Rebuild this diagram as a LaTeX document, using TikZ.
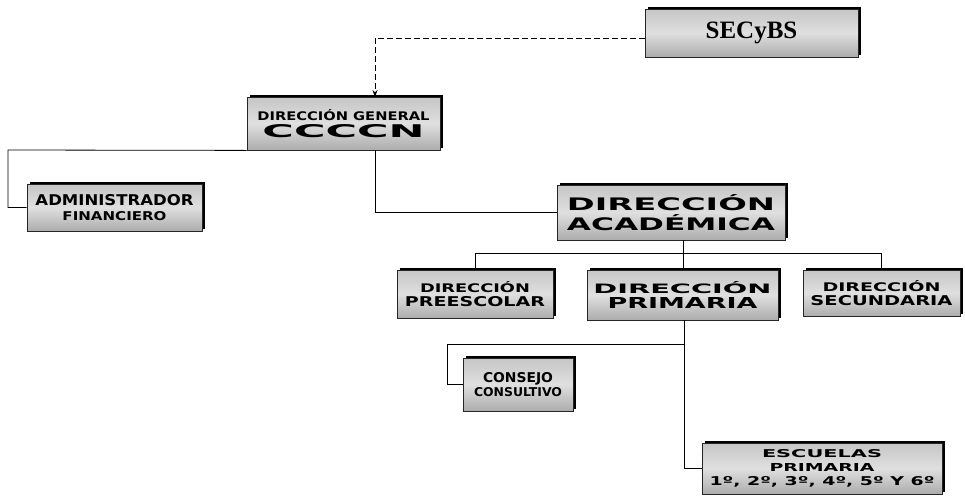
\documentclass[tikz,border=0pt]{standalone}
\usepackage{fontspec}
\setmainfont{DejaVu Sans}
\newfontfamily\serifb{Liberation Serif}
\usetikzlibrary{shadows,arrows.meta}
\newcommand{\boxline}[3]{\resizebox{#1pt}{#2pt}{\bfseries #3}}
\tikzset{
  orgbox/.style={rectangle, inner sep=0pt, align=center,
    draw=black!85, line width=0.8pt,
    top color=gray!45, bottom color=gray!65, middle color=gray!25,
    drop shadow={shadow xshift=2.5pt, shadow yshift=2.5pt, fill=black, opacity=1}},
  link/.style={draw=black, line width=0.8pt},
  dlink/.style={draw=black, line width=0.8pt, dashed, dash pattern=on 6pt off 3pt},
}
\begin{document}
\begin{tikzpicture}[x=1pt,y=-1pt]
\useasboundingbox (0,0) rectangle (965,498);
% boxes
\node[orgbox, minimum width=213pt, minimum height=48pt] (sec) at (751.5,33)
  {{\serifb\bfseries\fontsize{25}{27}\selectfont SECyBS}};
\node[orgbox, minimum width=193pt, minimum height=53pt] (dg) at (343.5,123.5)
  {\boxline{172}{11}{DIRECCIÓN GENERAL}\\[3pt]\boxline{162}{13}{CCCCN}};
\node[orgbox, minimum width=175pt, minimum height=47pt] (adm) at (114.5,207.5)
  {\boxline{158}{11}{ADMINISTRADOR}\\[3pt]\boxline{104}{9}{FINANCIERO}};
\node[orgbox, minimum width=228pt, minimum height=55pt] (da) at (671,212.5)
  {\boxline{208}{16}{DIRECCIÓN}\\[3pt]\boxline{208}{16}{ACADÉMICA}};
\node[orgbox, minimum width=156pt, minimum height=48pt] (pre) at (475,294)
  {\boxline{110}{11}{DIRECCIÓN}\\[2pt]\boxline{140}{10}{PREESCOLAR}};
\node[orgbox, minimum width=191pt, minimum height=50pt] (pri) at (682.5,295)
  {\boxline{178}{12}{DIRECCIÓN}\\[3pt]\boxline{150}{11}{PRIMARIA}};
\node[orgbox, minimum width=157pt, minimum height=46pt] (scd) at (881.5,293)
  {\boxline{118}{11}{DIRECCIÓN}\\[2pt]\boxline{142}{10}{SECUNDARIA}};
\node[orgbox, minimum width=110pt, minimum height=53pt] (con) at (518,384.5)
  {\boxline{70}{10}{CONSEJO}\\[2pt]\boxline{88}{9}{CONSULTIVO}};
\node[orgbox, minimum width=240pt, minimum height=51pt] (esc) at (822,468.5)
  {\boxline{120}{8}{ESCUELAS}\\[2pt]\boxline{105}{8}{PRIMARIA}\\[2pt]\boxline{225}{9}{1º, 2º, 3º, 4º, 5º Y 6º}};
% coordinates
\coordinate (dgin) at (375,97);
\coordinate (dgout) at (375,150);
\coordinate (admc) at (8,150);
\coordinate (daout) at (683,240);
\coordinate (bus) at (683,253);
\coordinate (priout) at (684,320);
\coordinate (pribus) at (684,344);
\coordinate (conc) at (447,344);
% connectors
\draw[dlink, -{Stealth[length=7pt,width=5pt]}] (sec.west |- 0,38) -| (dgin);
\draw[link] (dgout) |- (da.west);
\draw[link] (dg.south west) -- (admc) |- (adm.west);
\draw[link] (daout) -- (bus);
\draw[link] (pre.north |- bus) -- (scd.north |- bus);
\draw[link] (pre.north |- bus) -- (pre.north);
\draw[link] (bus) -- (pri.north -| bus);
\draw[link] (scd.north |- bus) -- (scd.north);
\draw[link] (priout) -- (pribus) -- (conc) |- (con.west);
\draw[link] (pribus) |- (esc.west);
\end{tikzpicture}
\end{document}
